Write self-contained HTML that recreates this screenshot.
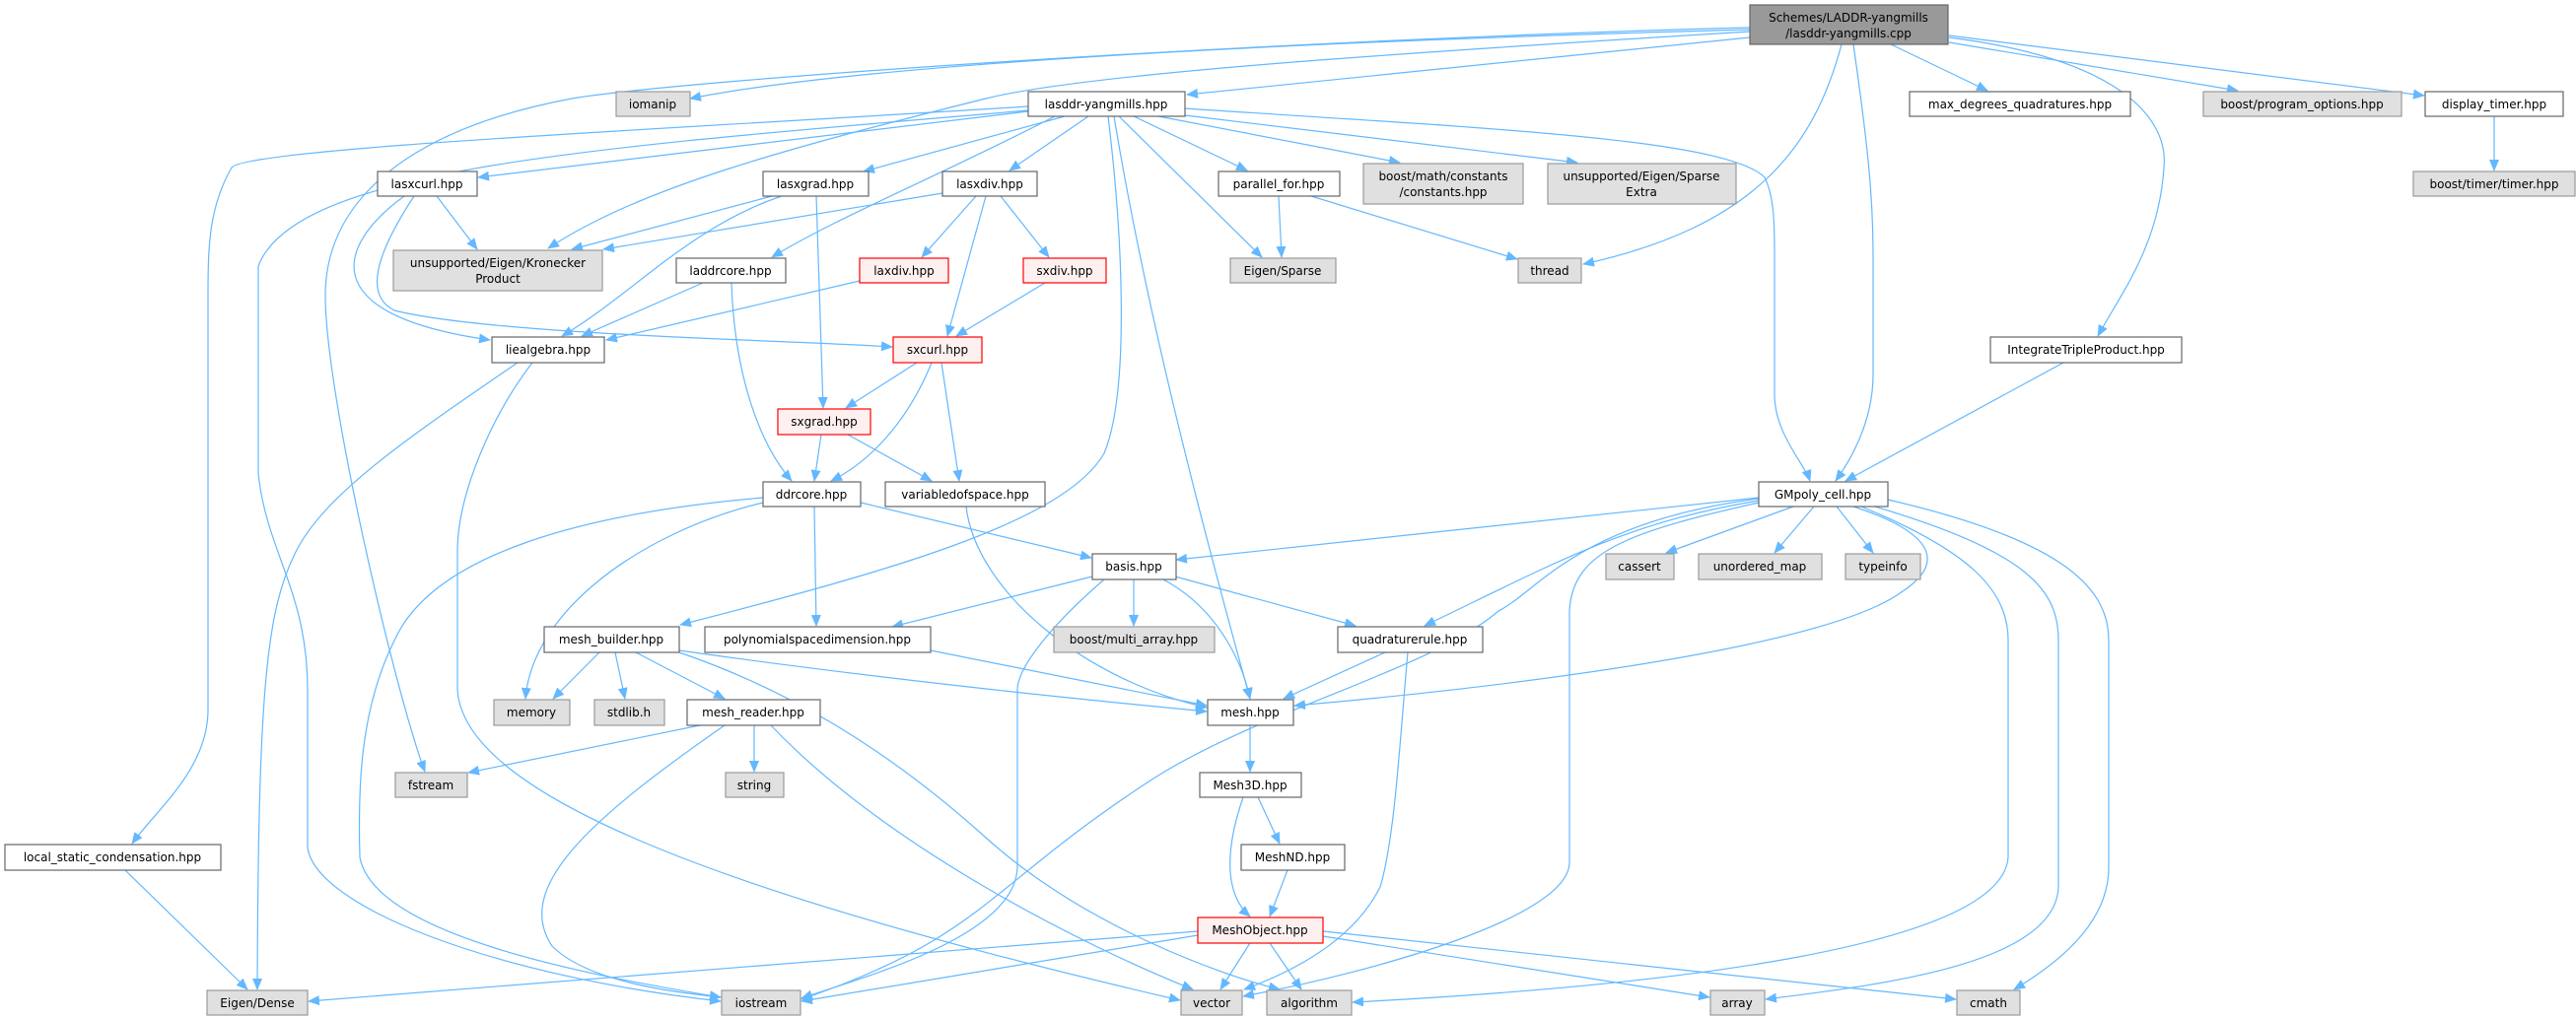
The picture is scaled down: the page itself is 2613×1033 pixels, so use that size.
<!DOCTYPE html>
<html><head><meta charset="utf-8"><style>
html,body{margin:0;padding:0;background:#fff;}
svg{display:block;}
text{font-family:"DejaVu Sans","Liberation Sans",sans-serif;font-size:12px;fill:#000;text-anchor:middle;}
.w{fill:#fff;stroke:#666;stroke-width:1.2;}
.g{fill:#e0e0e0;stroke:#999;stroke-width:1.2;}
.r{fill:#fff0f0;stroke:#f00;stroke-width:1.2;}
.k{fill:#999;stroke:#666;stroke-width:1.2;}
path{fill:none;stroke:#63b8ff;stroke-width:1.2;marker-end:url(#a);}
</style></head><body>
<svg width="2613" height="1033" viewBox="0 0 2613 1033" xmlns="http://www.w3.org/2000/svg">
<defs><marker id="a" markerWidth="12" markerHeight="10" refX="11" refY="5" orient="auto" markerUnits="userSpaceOnUse"><polygon points="0,0 12,5 0,10" fill="#63b8ff"/></marker></defs>
<g>
<!-- root edges -->
<path d="M1775,30 C1400,40 900,60 700,100"/>
<path d="M1775,28 C1300,40 700,80 580,100 C420,130 330,200 330,300 C330,400 400,700 431,783"/>
<path d="M1775,38 L1204,96"/>
<path d="M1775,32 C1400,55 1100,75 1000,100 C800,150 650,190 556,252"/>
<path d="M1868,45 C1840,150 1780,230 1606,268"/>
<path d="M1880,45 C1895,150 1900,200 1900,260 L1900,380 C1900,430 1875,470 1862,488"/>
<path d="M1918,45 L2016,92"/>
<path d="M1977,43 L2270,92"/>
<path d="M1977,36 L2459,97"/>
<path d="M1977,38 C2150,60 2200,120 2195,170 C2190,250 2150,300 2128,341"/>
<path d="M2530,118 L2530,173"/>
<path d="M2093,368 L1872,488"/>
<!-- lasddr edges -->
<path d="M1043,113 L485,180"/>
<path d="M1080,118 L876,174"/>
<path d="M1104,118 L1024,173"/>
<path d="M1070,118 C950,180 850,220 783,261"/>
<path d="M1043,108 C700,130 250,150 235,170 C212,210 211,250 211,300 L211,720 C211,780 160,820 134,856"/>
<path d="M1043,112 C600,150 300,170 262,270 L262,480 C270,560 312,600 312,700 L312,860 C320,920 500,990 731,1016"/>
<path d="M1202,110 C1500,130 1750,140 1790,180 C1800,200 1800,230 1800,260 L1800,400 C1800,440 1830,470 1836,488"/>
<path d="M1150,118 L1265,173"/>
<path d="M1175,118 L1420,165"/>
<path d="M1202,117 L1600,165"/>
<path d="M1135,118 L1280,261"/>
<path d="M1130,118 C1160,300 1210,500 1268,709"/>
<path d="M1124,118 C1140,250 1145,400 1120,460 C1080,530 900,580 690,634"/>
<!-- lasxcurl -->
<path d="M443,199 L484,253"/>
<path d="M410,199 C340,250 320,320 497,345"/>
<path d="M420,199 C380,260 370,300 400,315 C500,340 800,345 905,352"/>
<!-- lasxgrad -->
<path d="M783,199 L580,253"/>
<path d="M793,199 C700,230 640,300 570,341"/>
<path d="M828,199 L835,414"/>
<!-- lasxdiv -->
<path d="M990,199 L935,261"/>
<path d="M1015,199 L1064,261"/>
<path d="M1000,199 L961,341"/>
<path d="M956,196 L612,253"/>
<!-- parallel_for -->
<path d="M1297,199 L1300,261"/>
<path d="M1330,199 L1539,263"/>
<!-- laddrcore / laxdiv / sxdiv -->
<path d="M713,287 L590,341"/>
<path d="M742,287 C745,380 770,450 803,488"/>
<path d="M872,285 L615,345"/>
<path d="M1060,287 L970,341"/>
<!-- sxcurl / sxgrad -->
<path d="M930,368 L858,414"/>
<path d="M945,368 C920,430 880,470 843,488"/>
<path d="M955,368 L973,488"/>
<path d="M833,441 L826,488"/>
<path d="M860,441 L945,488"/>
<!-- liealgebra -->
<path d="M525,368 C420,440 330,500 300,560 C270,620 262,700 261,1004"/>
<path d="M540,368 C500,420 464,500 464,560 L464,700 C470,800 700,900 1197,1015"/>
<!-- ddrcore -->
<path d="M774,505 C600,520 440,560 400,650 C365,720 363,800 365,870 C380,950 600,990 731,1012"/>
<path d="M774,510 C650,540 540,620 533,709"/>
<path d="M826,514 L828,635"/>
<path d="M873,510 L1107,566"/>
<!-- variabledofspace -->
<path d="M980,514 C990,600 1100,690 1224,718"/>
<!-- basis -->
<path d="M1108,585 L905,636"/>
<path d="M1150,588 L1150,635"/>
<path d="M1180,588 C1240,620 1262,680 1268,709"/>
<path d="M1192,585 L1375,635"/>
<path d="M1120,588 C1060,640 1032,680 1032,700 L1032,880 C1030,950 880,990 813,1013"/>
<!-- mesh_builder -->
<path d="M608,662 L561,709"/>
<path d="M624,662 L634,709"/>
<path d="M645,662 L735,709"/>
<path d="M689,660 C900,690 1100,710 1224,722"/>
<path d="M689,662 C800,700 900,760 1000,850 C1100,940 1240,990 1298,1004"/>
<path d="M944,660 L1224,716"/>
<!-- mesh_reader -->
<path d="M710,736 L475,784"/>
<path d="M765,736 L765,783"/>
<path d="M735,736 C600,830 520,900 560,960 C600,1000 700,1008 731,1012"/>
<path d="M782,736 C900,860 1100,960 1210,1004"/>
<!-- quadraturerule -->
<path d="M1405,662 L1302,709"/>
<path d="M1428,662 C1420,750 1415,850 1400,900 C1370,960 1300,990 1262,1004"/>
<!-- mesh chain -->
<path d="M1268,736 L1268,783"/>
<path d="M1276,809 L1298,856"/>
<path d="M1261,809 C1240,870 1245,910 1268,930"/>
<path d="M1306,883 L1288,930"/>
<!-- MeshObject -->
<path d="M1215,945 L313,1016"/>
<path d="M1215,949 L813,1016"/>
<path d="M1268,957 L1238,1004"/>
<path d="M1288,957 L1320,1004"/>
<path d="M1342,950 L1734,1012"/>
<path d="M1342,945 L1984,1014"/>
<!-- local_static -->
<path d="M127,883 L251,1004"/>
<!-- GMpoly -->
<path d="M1784,505 L1193,568"/>
<path d="M1819,514 L1690,561"/>
<path d="M1840,514 L1800,561"/>
<path d="M1863,514 L1900,561"/>
<path d="M1784,508 C1650,530 1580,570 1445,635"/>
<path d="M1880,514 C1960,540 1975,570 1930,600 C1850,660 1500,700 1313,716"/>
<path d="M1784,506 C1600,530 1560,600 1520,620 C1450,680 1280,720 1170,790 C1000,900 1000,950 813,1014"/>
<path d="M1784,510 C1650,540 1595,560 1592,620 L1592,876 C1590,930 1400,985 1261,1011"/>
<path d="M1888,514 C2000,560 2037,600 2037,650 L2037,870 C2030,960 1700,1000 1372,1017"/>
<path d="M1895,512 C2060,560 2088,600 2088,650 L2088,900 C2085,980 1900,1000 1791,1014"/>
<path d="M1915,507 C2100,550 2139,600 2139,650 L2139,880 C2139,930 2100,970 2043,1004"/>
</g>
<g>
<rect class="k" x="1775" y="5" width="201" height="40"/><text x="1875" y="22">Schemes/LADDR-yangmills</text><text x="1875" y="38">/lasddr-yangmills.cpp</text>
<rect class="g" x="625" y="93" width="75" height="25"/><text x="662" y="110">iomanip</text>
<rect class="w" x="1043" y="93" width="159" height="25"/><text x="1122" y="110">lasddr-yangmills.hpp</text>
<rect class="w" x="1937" y="93" width="224" height="25"/><text x="2049" y="110">max_degrees_quadratures.hpp</text>
<rect class="g" x="2235" y="93" width="201" height="25"/><text x="2335" y="110">boost/program_options.hpp</text>
<rect class="w" x="2460" y="93" width="140" height="25"/><text x="2530" y="110">display_timer.hpp</text>
<rect class="g" x="2448" y="174" width="164" height="25"/><text x="2530" y="191">boost/timer/timer.hpp</text>
<rect class="w" x="383" y="174" width="101" height="25"/><text x="433" y="191">lasxcurl.hpp</text>
<rect class="w" x="774" y="174" width="107" height="25"/><text x="827" y="191">lasxgrad.hpp</text>
<rect class="w" x="956" y="174" width="96" height="25"/><text x="1004" y="191">lasxdiv.hpp</text>
<rect class="w" x="1236" y="174" width="123" height="25"/><text x="1297" y="191">parallel_for.hpp</text>
<rect class="g" x="1383" y="166" width="162" height="41"/><text x="1464" y="183">boost/math/constants</text><text x="1464" y="199">/constants.hpp</text>
<rect class="g" x="1570" y="166" width="191" height="41"/><text x="1665" y="183">unsupported/Eigen/Sparse</text><text x="1665" y="199">Extra</text>
<rect class="g" x="399" y="254" width="212" height="41"/><text x="505" y="271">unsupported/Eigen/Kronecker</text><text x="505" y="287">Product</text>
<rect class="w" x="686" y="262" width="111" height="25"/><text x="741" y="279">laddrcore.hpp</text>
<rect class="r" x="872" y="262" width="90" height="25"/><text x="917" y="279">laxdiv.hpp</text>
<rect class="r" x="1038" y="262" width="84" height="25"/><text x="1080" y="279">sxdiv.hpp</text>
<rect class="g" x="1248" y="262" width="107" height="25"/><text x="1301" y="279">Eigen/Sparse</text>
<rect class="g" x="1540" y="262" width="64" height="25"/><text x="1572" y="279">thread</text>
<rect class="w" x="499" y="342" width="114" height="26"/><text x="556" y="359">liealgebra.hpp</text>
<rect class="r" x="906" y="342" width="90" height="26"/><text x="951" y="359">sxcurl.hpp</text>
<rect class="w" x="2019" y="342" width="194" height="26"/><text x="2116" y="359">IntegrateTripleProduct.hpp</text>
<rect class="r" x="789" y="415" width="94" height="26"/><text x="836" y="432">sxgrad.hpp</text>
<rect class="w" x="774" y="489" width="99" height="25"/><text x="823" y="506">ddrcore.hpp</text>
<rect class="w" x="898" y="489" width="162" height="25"/><text x="979" y="506">variabledofspace.hpp</text>
<rect class="w" x="1784" y="489" width="131" height="25"/><text x="1849" y="506">GMpoly_cell.hpp</text>
<rect class="w" x="1108" y="562" width="85" height="26"/><text x="1150" y="579">basis.hpp</text>
<rect class="g" x="1629" y="562" width="69" height="26"/><text x="1663" y="579">cassert</text>
<rect class="g" x="1723" y="562" width="125" height="26"/><text x="1785" y="579">unordered_map</text>
<rect class="g" x="1872" y="562" width="76" height="26"/><text x="1910" y="579">typeinfo</text>
<rect class="w" x="552" y="636" width="137" height="26"/><text x="620" y="653">mesh_builder.hpp</text>
<rect class="w" x="715" y="636" width="229" height="26"/><text x="829" y="653">polynomialspacedimension.hpp</text>
<rect class="g" x="1069" y="636" width="163" height="26"/><text x="1150" y="653">boost/multi_array.hpp</text>
<rect class="w" x="1357" y="636" width="147" height="26"/><text x="1430" y="653">quadraturerule.hpp</text>
<rect class="g" x="501" y="710" width="77" height="26"/><text x="539" y="727">memory</text>
<rect class="g" x="603" y="710" width="71" height="26"/><text x="638" y="727">stdlib.h</text>
<rect class="w" x="697" y="710" width="135" height="26"/><text x="764" y="727">mesh_reader.hpp</text>
<rect class="w" x="1225" y="710" width="87" height="26"/><text x="1268" y="727">mesh.hpp</text>
<rect class="g" x="401" y="784" width="73" height="25"/><text x="437" y="801">fstream</text>
<rect class="g" x="736" y="784" width="59" height="25"/><text x="765" y="801">string</text>
<rect class="w" x="1217" y="784" width="103" height="25"/><text x="1268" y="801">Mesh3D.hpp</text>
<rect class="w" x="5" y="857" width="219" height="26"/><text x="114" y="874">local_static_condensation.hpp</text>
<rect class="w" x="1259" y="857" width="105" height="26"/><text x="1311" y="874">MeshND.hpp</text>
<rect class="r" x="1215" y="931" width="127" height="26"/><text x="1278" y="948">MeshObject.hpp</text>
<rect class="g" x="210" y="1005" width="102" height="25"/><text x="261" y="1022">Eigen/Dense</text>
<rect class="g" x="732" y="1005" width="80" height="25"/><text x="772" y="1022">iostream</text>
<rect class="g" x="1198" y="1005" width="62" height="25"/><text x="1229" y="1022">vector</text>
<rect class="g" x="1285" y="1005" width="86" height="25"/><text x="1328" y="1022">algorithm</text>
<rect class="g" x="1735" y="1005" width="55" height="25"/><text x="1762" y="1022">array</text>
<rect class="g" x="1985" y="1005" width="64" height="25"/><text x="2017" y="1022">cmath</text>
</g>
</svg>
</body></html>
